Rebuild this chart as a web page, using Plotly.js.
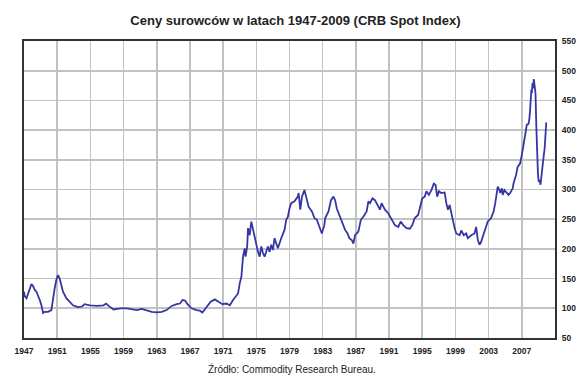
<!DOCTYPE html>
<html>
<head>
<meta charset="utf-8">
<script src="https://cdn.plot.ly/plotly-3.0.1.min.js"></script>
<style>html,body{margin:0;padding:0;background:#fff;}#chart{width:577px;height:377px;}</style>
</head>
<body>
<div id="chart"></div>
<script>
var years = [1947.0,1947.1,1947.3,1947.6,1947.9,1948.1,1948.3,1948.5,1948.7,1948.9,1949.1,1949.3,1949.5,1949.9,1950.3,1950.5,1950.7,1950.9,1951.1,1951.3,1951.5,1951.7,1952.1,1952.5,1952.9,1953.5,1954.0,1954.3,1954.95,1955.8,1956.6,1956.9,1957.2,1957.8,1958.6,1959.4,1960.0,1960.6,1961.2,1961.8,1962.4,1963.0,1963.6,1964.2,1964.8,1965.4,1965.8,1966.1,1966.4,1966.7,1967.2,1967.8,1968.2,1968.5,1969.0,1969.5,1970.0,1970.4,1970.9,1971.4,1971.8,1972.2,1972.8,1973.0,1973.2,1973.4,1973.6,1973.7,1973.9,1974.0,1974.2,1974.4,1974.6,1974.8,1975.0,1975.2,1975.4,1975.6,1975.8,1976.0,1976.4,1976.6,1976.8,1977.0,1977.2,1977.4,1977.6,1978.0,1978.4,1978.6,1978.8,1979.0,1979.2,1979.6,1980.0,1980.1,1980.3,1980.5,1980.8,1981.0,1981.3,1981.7,1982.0,1982.3,1982.7,1982.9,1983.2,1983.3,1983.7,1984.0,1984.3,1984.5,1984.7,1985.1,1985.4,1985.7,1986.0,1986.2,1986.5,1986.7,1986.9,1987.3,1987.6,1987.9,1988.3,1988.5,1988.7,1989.0,1989.3,1989.6,1989.9,1990.1,1990.5,1990.9,1991.3,1991.7,1992.1,1992.4,1992.7,1993.1,1993.5,1993.8,1994.1,1994.5,1994.7,1995.0,1995.3,1995.5,1995.8,1996.1,1996.4,1996.6,1996.8,1997.0,1997.3,1997.7,1997.9,1998.1,1998.3,1998.5,1998.7,1998.9,1999.1,1999.5,1999.7,2000.0,2000.3,2000.5,2000.9,2001.3,2001.5,2001.7,2001.9,2002.1,2002.3,2002.6,2002.9,2003.3,2003.6,2003.8,2004.0,2004.1,2004.3,2004.4,2004.6,2004.7,2004.9,2005.2,2005.4,2005.6,2005.9,2006.0,2006.3,2006.5,2006.8,2007.0,2007.2,2007.3,2007.5,2007.6,2007.8,2007.9,2008.0,2008.1,2008.15,2008.2,2008.3,2008.35,2008.45,2008.55,2008.65,2008.75,2008.85,2008.95,2009.05,2009.15,2009.25,2009.35,2009.45,2009.55,2009.65,2009.75,2009.85,2009.95];
var crbIndex = [128,120,117,128,141,137,131,128,122,114,105,92,94,94,97,119,134,148,156,150,136,128,117,111,105,102,103,107,105,104,105,108,104,98,100,100,99,97,99,96,94,93,94,97,104,107,108,114,113,107,100,97,96,93,103,111,115,111,107,108,105,114,125,142,153,187,201,187,204,235,223,246,232,220,204,195,187,204,193,187,204,195,207,198,218,207,201,218,232,249,254,268,277,280,288,294,266,288,299,288,271,263,252,249,235,226,240,252,263,282,288,282,268,254,243,232,226,218,215,209,223,229,249,254,263,280,277,285,282,274,266,277,266,260,249,240,237,246,240,235,234,240,252,257,268,285,288,297,291,299,310,308,288,297,294,295,277,266,274,260,249,235,226,223,231,223,226,218,223,226,237,215,207,212,221,232,246,252,263,277,297,305,299,294,302,291,299,294,291,294,302,310,324,338,344,358,372,383,400,409,410,417,434,454,468,462,479,470,486,473,462,406,355,324,313,316,308,322,336,355,358,369,389,413];
var xTickVals = [1947,1951,1955,1959,1963,1967,1971,1975,1979,1983,1987,1991,1995,1999,2003,2007];
var xTickText = ['1947','1951','1955','1959','1963','1967','1971','1975','1979','1983','1987','1991','1995','1999','2003','2007'];
var yTickVals = [50,100,150,200,250,300,350,400,450,500,550];

var trace = {
  x: years, y: crbIndex, type: 'scatter', mode: 'lines',
  line: {color: '#3636a3', width: 1.8}, hoverinfo: 'skip'
};
var tickFont = {family: 'Arial, "Liberation Sans", sans-serif', size: 8.5, color: '#222', weight: 'bold'};
var layout = {
  width: 577, height: 377,
  paper_bgcolor: '#fff', plot_bgcolor: '#fff',
  margin: {l: 24, r: 22, t: 41, b: 39},
  showlegend: false,
  title: {text: '<b>Ceny surowców w latach 1947-2009 (CRB Spot Index)</b>',
          font: {family: 'Arial, "Liberation Sans", sans-serif', size: 13, color: '#222'},
          x: 0.512, xanchor: 'center', y: 0.947, yanchor: 'middle'},
  xaxis: {range: [1947, 2011], tickvals: xTickVals, ticktext: xTickText,
          showgrid: true, gridcolor: '#c2c2c2', gridwidth: 1.6,
          showline: true, mirror: true, linecolor: '#333', linewidth: 2,
          ticks: '', ticklabelstandoff: 4, zeroline: false, tickfont: tickFont, fixedrange: true},
  yaxis: {range: [50, 550], tickvals: yTickVals, side: 'right',
          showgrid: true, gridcolor: '#c2c2c2', gridwidth: 1.6,
          showline: true, mirror: true, linecolor: '#333', linewidth: 2,
          ticks: '', ticklabelstandoff: 3, zeroline: false, tickfont: tickFont, fixedrange: true},
  annotations: [{text: 'Źródło: Commodity Research Bureau.', xref: 'paper', yref: 'paper',
                 x: 0.505, y: -0.105, xanchor: 'center', yanchor: 'middle', showarrow: false,
                 font: {family: 'Arial, "Liberation Sans", sans-serif', size: 10, color: '#222'}}]
};
Plotly.newPlot('chart', [trace], layout, {displayModeBar: false, staticPlot: true});
</script>
</body>
</html>
